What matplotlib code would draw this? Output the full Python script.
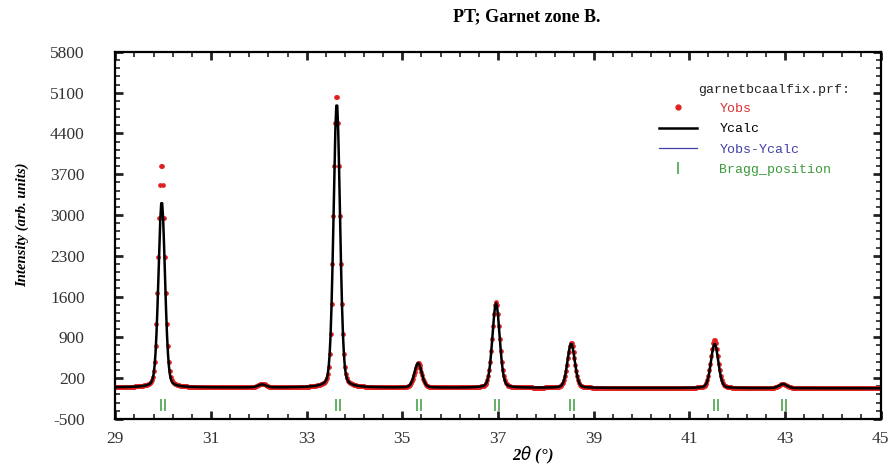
import matplotlib
matplotlib.use('Agg')
import matplotlib.pyplot as plt
from matplotlib.lines import Line2D
import numpy as np

plt.rcParams['axes.unicode_minus'] = False

# peak table (2theta, obs height, calc height, fwhm)
peak_pos = [29.97, 32.07, 33.63, 35.33, 36.96, 38.53, 41.53, 42.96]
peak_obs = [3850, 60, 5050, 420, 1470, 780, 840, 70]
peak_calc = [3200, 50, 4900, 420, 1450, 760, 760, 70]
peak_fwhm = [0.16, 0.20, 0.16, 0.18, 0.18, 0.18, 0.18, 0.20]

# background level at left / right edge
bkg_left = 40
bkg_right = 25

# bragg reflections (K-alpha1 / K-alpha2 pairs)
bragg_k1 = [29.95, 33.61, 35.31, 36.94, 38.51, 41.51, 42.94]
bragg_k2 = [30.03, 33.69, 35.39, 37.02, 38.59, 41.60, 43.03]
bragg_level = -260

x_ticks = [29, 31, 33, 35, 37, 39, 41, 43, 45]
y_ticks = [-500, 200, 900, 1600, 2300, 3000, 3700, 4400, 5100, 5800]

step = 0.02
tt = np.arange(29.0, 45.0 + step / 2, step)


def profile(heights):
    y = bkg_left + (bkg_right - bkg_left) * (tt - 29.0) / 16.0
    for p, h, w in zip(peak_pos, heights, peak_fwhm):
        g = np.exp(-4 * np.log(2) * ((tt - p) / w) ** 2)
        l = 1.0 / (1 + 4 * ((tt - p) / w) ** 2)
        y = y + h * (0.8 * g + 0.2 * l)
    return y


yobs = profile(peak_obs)
ycalc = profile(peak_calc)

fig = plt.figure(figsize=(8.94, 4.68), dpi=100)
ax = fig.add_axes([0.129, 0.105, 0.856, 0.784])

ax.plot(tt, yobs, 'o', color='#e02020', ms=3.4, mec='none', zorder=2)
ax.plot(tt, ycalc, '-', color='black', lw=1.8, zorder=3)
ax.plot(bragg_k1, [bragg_level] * len(bragg_k1), '|', color='#3a9a3a', ms=9, mew=1.1)
ax.plot(bragg_k2, [bragg_level] * len(bragg_k2), '|', color='#3a9a3a', ms=9, mew=1.1)

ax.set_xlim(29, 45)
ax.set_ylim(-500, 5800)
ax.set_xticks(x_ticks)
ax.set_xticks(np.arange(29, 45.01, 0.4), minor=True)
ax.set_yticks(y_ticks)
ax.set_yticks(np.arange(-500, 5801, 140), minor=True)
ax.tick_params(which='both', direction='in', top=True, right=True, width=1.2, color='#222')
ax.tick_params(which='major', length=6, width=2)
ax.tick_params(which='minor', length=3.5)
ax.tick_params(axis='x', which='major', pad=9, labelsize=12.5, labelcolor='#333')
ax.tick_params(axis='y', which='major', pad=22, labelsize=12.5, labelcolor='#333')
for lab in ax.get_xticklabels() + ax.get_yticklabels():
    lab.set_family('Liberation Serif')
for s in ax.spines.values():
    s.set_linewidth(1.6)

ax.set_xlabel(r'2$\theta$ (°)', family='Liberation Serif', style='italic',
              weight='bold', fontsize=12)
ax.xaxis.set_label_coords(0.545, -0.07)
ax.set_ylabel('Intensity (arb. units)', family='Liberation Serif', style='italic',
              weight='bold', fontsize=10.5)
ax.yaxis.set_label_coords(-0.113, 0.53)
fig.text(0.589, 0.964, 'PT; Garnet zone B.', family='Liberation Serif', weight='bold',
         fontsize=13, ha='center', va='center')

# legend
handles = [
    Line2D([], [], ls='none', marker='o', color='#e02020', ms=3.5),
    Line2D([], [], color='black', lw=1.8),
    Line2D([], [], color='#4040a8', lw=0.9),
    Line2D([], [], ls='none', marker='|', color='#3a9a3a', ms=9, mew=1.1),
]
labels = ['Yobs', 'Ycalc', 'Yobs-Ycalc', 'Bragg_position']
leg = ax.legend(handles, labels, loc='upper left', bbox_to_anchor=(0.71, 0.862),
                frameon=False, borderpad=0, borderaxespad=0, handlelength=2.9,
                handletextpad=1.7, labelspacing=0.62,
                prop={'family': 'Liberation Mono', 'size': 9.5},
                labelcolor=['#e03030', 'black', '#4040a8', '#3a9a3a'])
ax.text(0.761, 0.895, 'garnetbcaalfix.prf:', transform=ax.transAxes,
        family='Liberation Mono', fontsize=9.5, ha='left', va='center', color='#222')

fig.savefig('out.png', dpi=100)
